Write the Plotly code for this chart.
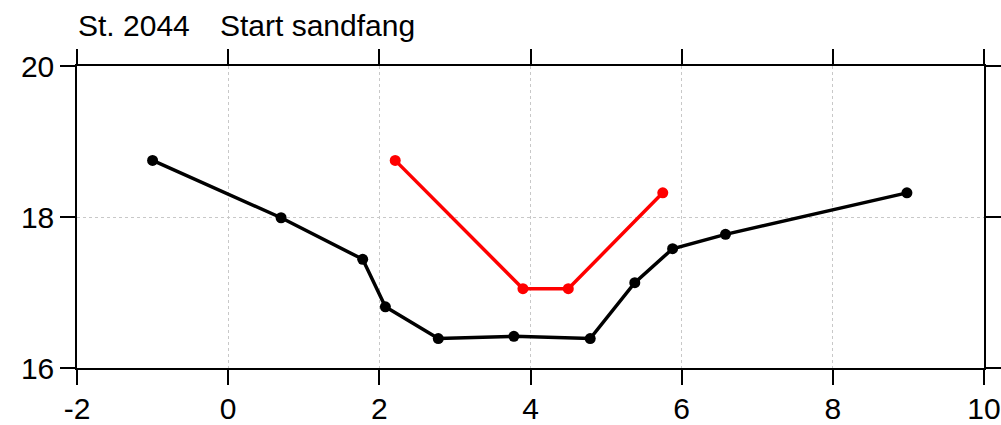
import plotly.graph_objects as go

# Black profile
black_x = [-1.0, 0.7, 1.78, 2.08, 2.78, 3.78, 4.79, 5.38, 5.88, 6.58, 8.98]
black_y = [18.75, 17.99, 17.44, 16.81, 16.39, 16.42, 16.39, 17.13, 17.58, 17.77, 18.32]

# Red profile
red_x = [2.21, 3.90, 4.50, 5.75]
red_y = [18.75, 17.05, 17.05, 18.32]

x_ticks = [-2, 0, 2, 4, 6, 8, 10]
y_ticks = [16, 18, 20]
title_left = "St. 2044"
title_right = "Start sandfang"

FONT = "Liberation Sans, Arial, Helvetica, sans-serif"

fig = go.Figure()
fig.add_trace(go.Scatter(x=black_x, y=black_y, mode="lines+markers",
                         line=dict(color="black", width=3.5),
                         marker=dict(color="black", size=11),
                         showlegend=False, cliponaxis=False))
fig.add_trace(go.Scatter(x=red_x, y=red_y, mode="lines+markers",
                         line=dict(color="#ff0000", width=3.5),
                         marker=dict(color="#ff0000", size=11),
                         showlegend=False, cliponaxis=False))

axis_common = dict(
    showline=True, linecolor="black", linewidth=1.5, mirror="allticks",
    ticks="outside", ticklen=15, tickwidth=1.5, tickcolor="black",
    showgrid=True, gridcolor="#c8c8c8", gridwidth=1, griddash="dot",
    zeroline=False, automargin=False,
    tickfont=dict(family=FONT, size=30, color="black"),
)

fig.update_xaxes(range=[-2, 10], tickvals=x_ticks, ticktext=[str(v) for v in x_ticks],
                 ticklabelstandoff=-2, **axis_common)
fig.update_yaxes(range=[16, 20], tickvals=y_ticks, ticktext=[str(v) for v in y_ticks], **axis_common)

fig.add_annotation(text=title_left, xref="paper", yref="paper", x=-0.001, y=1.135,
                   xanchor="left", yanchor="middle", showarrow=False,
                   font=dict(family=FONT, size=30, color="black"))
fig.add_annotation(text=title_right, xref="paper", yref="paper", x=0.1555, y=1.135,
                   xanchor="left", yanchor="middle", showarrow=False,
                   font=dict(family=FONT, size=30, color="black"))

fig.update_layout(
    width=1001, height=425,
    margin=dict(l=77, r=17, t=66, b=57, autoexpand=False),
    paper_bgcolor="white", plot_bgcolor="white",
    font=dict(family=FONT, color="black"),
)

fig.write_html(
    "out.html",
    config={"displayModeBar": False},
    post_script="document.body.style.margin='0';document.body.style.padding='0';document.body.style.overflow='hidden';",
)
